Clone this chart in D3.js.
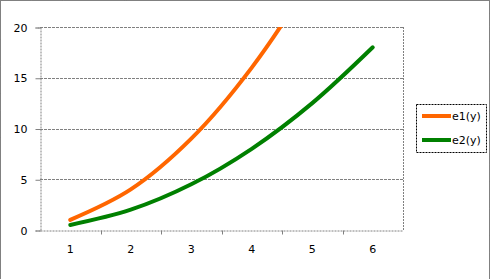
<!DOCTYPE html>
<html>
<head>
<meta charset="utf-8">
<script src="https://cdn.jsdelivr.net/npm/d3@7"></script>
<style>
body { margin: 0; background: #fff; }
svg { display: block; }
text { font-family: "DejaVu Sans", Verdana, sans-serif; font-size: 11px; fill: #000; }
</style>
</head>
<body>
<div id="vis"></div>
<script>
// data
var categories = ["1", "2", "3", "4", "5", "6"];
var e1 = [1, 4, 9, 16, 25, 36];
var e2 = [0.5, 2, 4.5, 8, 12.5, 18];
var yTicks = [0, 5, 10, 15, 20];
var seriesNames = ["e1(y)", "e2(y)"];
var seriesColors = ["#ff6600", "#008000"];

var width = 490, height = 279;
var plot = {left: 40, top: 27, right: 403, bottom: 230};

var svg = d3.select("#vis").append("svg")
    .attr("width", width)
    .attr("height", height);

// outer chart border (dotted)
svg.append("rect")
    .attr("x", 0.5).attr("y", 0.5)
    .attr("width", width - 1).attr("height", height + 5)
    .attr("fill", "none")
    .attr("stroke", "#000")
    .attr("stroke-dasharray", "1,1");

var x = d3.scaleBand().domain(categories).range([plot.left, plot.right]);
var y = d3.scaleLinear().domain([0, 20]).range([plot.bottom, plot.top]);

// gridlines
svg.append("g").selectAll("line")
    .data(yTicks.slice(1))
    .enter().append("line")
    .attr("x1", plot.left).attr("x2", plot.right)
    .attr("y1", function(d){ return Math.round(y(d)) + 0.5; })
    .attr("y2", function(d){ return Math.round(y(d)) + 0.5; })
    .attr("stroke", "#808080")
    .attr("stroke-dasharray", "3,1");

// right border of plot area
svg.append("line")
    .attr("x1", plot.right + 0.5).attr("x2", plot.right + 0.5)
    .attr("y1", plot.top).attr("y2", plot.bottom)
    .attr("stroke", "#808080")
    .attr("stroke-dasharray", "2,1");

// y axis
var Y = d3.axisLeft(y).tickValues(yTicks).tickSize(5).tickPadding(8);
var yg = svg.append("g")
    .attr("transform", "translate(" + (plot.left + 0.5) + ",0.5)")
    .call(Y);
yg.selectAll("path, line").attr("stroke", "#808080");
yg.select(".domain").attr("stroke-dasharray", "2,1");
yg.selectAll("text").style("font-size", "11px");

// x axis: ticks between categories
var X = d3.axisBottom(x).tickSize(0).tickPadding(15);
var xg = svg.append("g")
    .attr("transform", "translate(0," + (plot.bottom + 0.5) + ")")
    .call(X);
xg.select(".domain").attr("stroke", "#808080").attr("stroke-dasharray", "2,1");
xg.selectAll("text").style("font-size", "11px");
xg.selectAll(".sep")
    .data(categories.slice(1))
    .enter().append("line")
    .attr("class", "sep")
    .attr("x1", function(d){ return Math.round(x(d)) + 0.5; })
    .attr("x2", function(d){ return Math.round(x(d)) + 0.5; })
    .attr("y1", 0).attr("y2", 4)
    .attr("stroke", "#808080");

// clip lines to the plot area
svg.append("clipPath").attr("id", "clip")
    .append("rect")
    .attr("x", plot.left).attr("y", plot.top)
    .attr("width", plot.right - plot.left + 10)
    .attr("height", plot.bottom - plot.top + 10);

var line = d3.line()
    .x(function(d, i){ return x(categories[i]) + x.bandwidth() / 2; })
    .y(function(d){ return y(d); })
    .curve(d3.curveCatmullRom.alpha(0.5));

var series = [e1, e2];
svg.append("g").attr("clip-path", "url(#clip)")
    .selectAll("path")
    .data(series)
    .enter().append("path")
    .attr("d", line)
    .attr("fill", "none")
    .attr("stroke", function(d, i){ return seriesColors[i]; })
    .attr("stroke-width", 4)
    .attr("stroke-linecap", "round");

// legend
var lg = svg.append("g");
lg.append("rect")
    .attr("x", 416.5).attr("y", 104.5)
    .attr("width", 70).attr("height", 48)
    .attr("fill", "#fff")
    .attr("stroke", "#000")
    .attr("stroke-dasharray", "2,1");
var items = lg.selectAll(".item")
    .data(seriesNames)
    .enter().append("g")
    .attr("transform", function(d, i){ return "translate(422," + (116 + i * 24) + ")"; });
items.append("line")
    .attr("x1", 0).attr("x2", 29)
    .attr("stroke", function(d, i){ return seriesColors[i]; })
    .attr("stroke-width", 4);
items.append("text")
    .attr("x", 30).attr("y", 4)
    .text(function(d){ return d; });
</script>
</body>
</html>
